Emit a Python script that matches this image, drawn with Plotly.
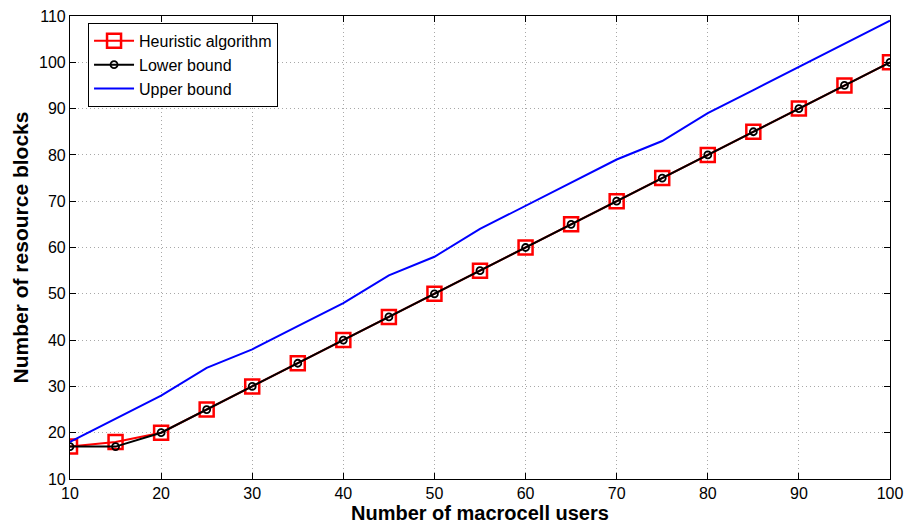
import plotly.graph_objects as go

users = [10, 15, 20, 25, 30, 35, 40, 45, 50, 55, 60, 65, 70, 75, 80, 85, 90, 95, 100]
heuristic = [17, 18, 20, 25, 30, 35, 40, 45, 50, 55, 60, 65, 70, 75, 80, 85, 90, 95, 100]
lower = [17, 17, 20, 25, 30, 35, 40, 45, 50, 55, 60, 65, 70, 75, 80, 85, 90, 95, 100]
upper = [18, 23, 28, 34, 38, 43, 48, 54, 58, 64, 69, 74, 79, 83, 89, 94, 99, 104, 109]

fig = go.Figure()
fig.add_trace(go.Scatter(x=users, y=heuristic, name="Heuristic algorithm", mode="lines+markers",
                         line=dict(color="red", width=2),
                         marker=dict(symbol="square-open", size=14, color="red", line=dict(width=2.5))))
fig.add_trace(go.Scatter(x=users, y=lower, name="Lower bound", mode="lines+markers",
                         line=dict(color="black", width=2),
                         marker=dict(symbol="circle-open", size=7, color="black", line=dict(width=1.8))))
fig.add_trace(go.Scatter(x=users, y=upper, name="Upper bound", mode="lines",
                         line=dict(color="#0000ff", width=2)))

axis_common = dict(showline=True, linecolor="black", linewidth=1.2, mirror="ticks",
                   ticks="inside", ticklen=6, tickcolor="black", automargin=False,
                   showgrid=True, gridcolor="#a8a8a8", griddash="1px,3px", gridwidth=1,
                   zeroline=False, tickfont=dict(family="Liberation Sans, Arial", size=16, color="black"))

fig.update_layout(
    width=907, height=525,
    margin=dict(l=70, r=17, t=16, b=46),
    plot_bgcolor="white", paper_bgcolor="white",
    xaxis=dict(range=[10, 100], tickvals=list(range(10, 101, 10)), **axis_common),
    yaxis=dict(range=[10, 110], tickvals=list(range(10, 111, 10)), **axis_common,
               title=dict(text="<b>Number of resource blocks</b>", standoff=4,
                          font=dict(family="Liberation Sans, Arial", size=21, color="black"))),
    legend=dict(x=0.022, y=0.985, xanchor="left", yanchor="top",
                bgcolor="white", bordercolor="black", borderwidth=1,
                font=dict(family="Liberation Sans, Arial", size=16, color="black"),
                tracegroupgap=0, itemwidth=40),
    showlegend=True,
)
fig.add_annotation(text="<b>Number of macrocell users</b>", xref="paper", yref="paper",
                   x=0.5, y=0, xanchor="center", yanchor="top", yshift=-21, showarrow=False,
                   font=dict(family="Liberation Sans, Arial", size=20, color="black"))

fig.write_html("out.html")
